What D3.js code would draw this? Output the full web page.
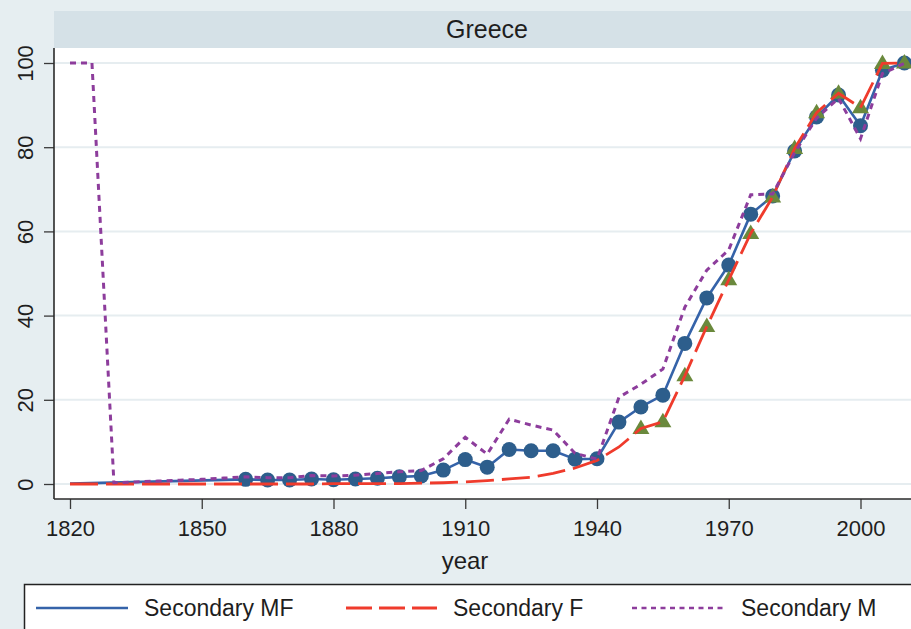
<!DOCTYPE html>
<html>
<head>
<meta charset="utf-8">
<script src="https://cdn.jsdelivr.net/npm/d3@7/dist/d3.min.js"></script>
<style>
  body { margin:0; background:#e6eef1; }
  svg { display:block; font-family:"Liberation Sans", Arial, Helvetica, sans-serif; }
</style>
</head>
<body>
<svg id="chart" width="911" height="629"></svg>
<script>
//^^^^^^^^^^^^^^^^^^^^^^^^^^^^^^^^^^^^^^^^^^^^^^^^^^^^^^^^^^^^^^^^^^^^^^^^^^^^^^
// Data
//------------------------------------------------------------------------------
var country = "Greece"
var xTicks = [1820, 1850, 1880, 1910, 1940, 1970, 2000]
var yTicks = [0, 20, 40, 60, 80, 100]

var mfYears = [1820, 1860, 1865, 1870, 1875, 1880, 1885, 1890, 1895, 1900,
               1905, 1910, 1915, 1920, 1925, 1930, 1935, 1940, 1945, 1950,
               1955, 1960, 1965, 1970, 1975, 1980, 1985, 1990, 1995, 2000,
               2005, 2010]
var mfValues = [0.1, 1.1, 0.95, 0.95, 1.2, 1.0, 1.2, 1.35, 1.7, 1.9,
                3.3, 5.8, 4.0, 8.2, 7.9, 7.9, 5.9, 6.0, 14.7, 18.3,
                21.1, 33.4, 44.2, 52.0, 64.1, 68.4, 79.1, 87.2, 92.4, 85.1,
                98.3, 100]
var mfMarkedFrom = 1860

var fmYears = d3.range(1820, 2011, 5)
var fValues = [0, 0, 0, 0, 0, 0, 0, 0, 0, 0, 0, 0, 0.1, 0.1, 0.1, 0.1,
               0.2, 0.3, 0.5, 0.8, 1.2, 1.6, 2.5, 3.8, 5.6, 8.8,
               13.2, 14.8, 25.7, 37.4, 48.5, 59.5, 68.2, 79.7, 88.2, 92.8,
               89.4, 99.9, 100]
var fMarkedFrom = 1950

var mValues = [100, 100, 0.3, 0.5, 0.7, 0.9, 1.1, 1.4, 1.7,
               1.5, 1.5, 2.0, 1.9, 2.1, 2.5, 2.9, 3.2,
               6.0, 11.1, 7.1, 15.4, 14.0, 12.8, 7.3, 5.9,
               20.6, 23.7, 27.3, 42.0, 50.8, 55.6, 68.7, 68.9,
               78.7, 86.9, 91.6, 82.0, 97.5, 99.9]

var legendLabels = ["Secondary MF", "Secondary F", "Secondary M"]

//^^^^^^^^^^^^^^^^^^^^^^^^^^^^^^^^^^^^^^^^^^^^^^^^^^^^^^^^^^^^^^^^^^^^^^^^^^^^^^
// Layout & style
//------------------------------------------------------------------------------
var svg = d3.select("#chart")

var plot = { left: 54, right: 930, top: 48, bottom: 499 },
    band = { top: 11, height: 37 },
    ink = "#1e1e1e",
    grid = "#e6edf0",
    colors = { mf: "#3563a9", mfMark: "#2d5e8c", f: "#ef3b2c", fMark: "#6a893c", m: "#8d3d9c" }

var x = d3.scaleLinear().domain([1820, 2000]).range([70, 860.5])
var y = d3.scaleLinear().domain([0, 100]).range([484, 63])

var mf = mfYears.map(function(d, i) { return { year: d, value: mfValues[i] } }),
    fs = fmYears.map(function(d, i) { return { year: d, value: fValues[i] } }),
    ms = fmYears.map(function(d, i) { return { year: d, value: mValues[i] } })

svg.append("rect")
  .attr("width", 911).attr("height", 629)
  .attr("fill", "#e6eef1")

//^^^^^^^^^^^^^^^^^^^^^^^^^^^^^^^^^^^^^^^^^^^^^^^^^^^^^^^^^^^^^^^^^^^^^^^^^^^^^^
// Subtitle band and plot region
//------------------------------------------------------------------------------
svg.append("rect")
  .attr("x", plot.left).attr("y", band.top)
  .attr("width", plot.right - plot.left).attr("height", band.height)
  .attr("fill", "#d5e1e7")

svg.append("text")
  .attr("x", 487).attr("y", band.top + 27)
  .attr("text-anchor", "middle")
  .attr("font-size", 25)
  .attr("fill", ink)
  .text(country)

svg.append("rect")
  .attr("x", plot.left).attr("y", plot.top)
  .attr("width", plot.right - plot.left).attr("height", plot.bottom - plot.top)
  .attr("fill", "#ffffff")

svg.append("g")
  .selectAll("line")
  .data(yTicks)
  .enter().append("line")
    .attr("x1", plot.left).attr("x2", plot.right)
    .attr("y1", function(d) { return y(d) })
    .attr("y2", function(d) { return y(d) })
    .attr("stroke", grid)
    .attr("stroke-width", 2)

//^^^^^^^^^^^^^^^^^^^^^^^^^^^^^^^^^^^^^^^^^^^^^^^^^^^^^^^^^^^^^^^^^^^^^^^^^^^^^^
// Axes
//------------------------------------------------------------------------------
var xAxis = svg.append("g")
  .attr("transform", "translate(0," + plot.bottom + ")")
  .call(d3.axisBottom(x).tickValues(xTicks).tickFormat(d3.format("d")).tickSize(10).tickPadding(6).tickSizeOuter(0))

var yAxis = svg.append("g")
  .attr("transform", "translate(" + plot.left + ",0)")
  .call(d3.axisLeft(y).tickValues(yTicks).tickSize(10).tickPadding(6).tickSizeOuter(0))

xAxis.select(".domain").remove()
yAxis.select(".domain").remove()

svg.selectAll(".tick line").attr("stroke", "#3a3a3a").attr("stroke-width", 1.3)
svg.selectAll(".tick text")
  .attr("font-family", "Liberation Sans, Arial, sans-serif")
  .attr("font-size", 22)
  .attr("fill", ink)

yAxis.selectAll(".tick text")
  .attr("text-anchor", "middle")
  .attr("dy", 0)
  .attr("x", 0)
  .attr("transform", "translate(-21,0) rotate(-90)")

xAxis.selectAll(".tick text").attr("dy", "0.95em")

svg.append("line")
  .attr("x1", plot.left).attr("x2", plot.left)
  .attr("y1", plot.top).attr("y2", plot.bottom)
  .attr("stroke", "#2a2a2a").attr("stroke-width", 1.6)

svg.append("line")
  .attr("x1", plot.left).attr("x2", plot.right)
  .attr("y1", plot.bottom).attr("y2", plot.bottom)
  .attr("stroke", "#2a2a2a").attr("stroke-width", 1.6)

svg.append("text")
  .attr("x", 465).attr("y", 569)
  .attr("text-anchor", "middle")
  .attr("font-size", 24)
  .attr("fill", ink)
  .text("year")

//^^^^^^^^^^^^^^^^^^^^^^^^^^^^^^^^^^^^^^^^^^^^^^^^^^^^^^^^^^^^^^^^^^^^^^^^^^^^^^
// Series
//------------------------------------------------------------------------------
var line = d3.line()
  .x(function(d) { return x(d.year) })
  .y(function(d) { return y(d.value) })

var marks = svg.append("g")

marks.append("path")
  .datum(mf)
  .attr("d", line)
  .attr("fill", "none")
  .attr("stroke", colors.mf)
  .attr("stroke-width", 2.6)
  .attr("stroke-linejoin", "round")

marks.selectAll("circle")
  .data(mf.filter(function(d) { return d.year >= mfMarkedFrom }))
  .enter().append("circle")
    .attr("cx", function(d) { return x(d.year) })
    .attr("cy", function(d) { return y(d.value) })
    .attr("r", 7.5)
    .attr("fill", colors.mfMark)

marks.selectAll("path.tri")
  .data(fs.filter(function(d) { return d.year >= fMarkedFrom }))
  .enter().append("path")
    .attr("class", "tri")
    .attr("d", "M0,-9L8.5,5.5L-8.5,5.5Z")
    .attr("transform", function(d) { return "translate(" + x(d.year) + "," + y(d.value) + ")" })
    .attr("fill", colors.fMark)

marks.append("path")
  .datum(fs)
  .attr("d", line)
  .attr("fill", "none")
  .attr("stroke", colors.f)
  .attr("stroke-width", 2.8)
  .attr("stroke-dasharray", "28,8")

marks.append("path")
  .datum(ms)
  .attr("d", line)
  .attr("fill", "none")
  .attr("stroke", colors.m)
  .attr("stroke-width", 3)
  .attr("stroke-dasharray", "6,5")

//^^^^^^^^^^^^^^^^^^^^^^^^^^^^^^^^^^^^^^^^^^^^^^^^^^^^^^^^^^^^^^^^^^^^^^^^^^^^^^
// Legend
//------------------------------------------------------------------------------
var legend = svg.append("g")

legend.append("rect")
  .attr("x", 24.5).attr("y", 584.5)
  .attr("width", 920).attr("height", 70)
  .attr("fill", "#ffffff")
  .attr("stroke", "#222")
  .attr("stroke-width", 1.5)

var keys = [
  { x1: 36, x2: 128, tx: 144, color: colors.mf, dash: null, width: 2.6 },
  { x1: 346, x2: 437, tx: 453, color: colors.f, dash: "26,7", width: 2.8 },
  { x1: 632, x2: 724, tx: 741, color: colors.m, dash: "5,4.5", width: 2.4 }
]

keys.forEach(function(k, i) {
  legend.append("line")
    .attr("x1", k.x1).attr("x2", k.x2)
    .attr("y1", 608).attr("y2", 608)
    .attr("stroke", k.color)
    .attr("stroke-width", k.width)
    .attr("stroke-dasharray", k.dash)
  legend.append("text")
    .attr("x", k.tx).attr("y", 616)
    .attr("font-size", 23)
    .attr("fill", ink)
    .text(legendLabels[i])
})
</script>
</body>
</html>
